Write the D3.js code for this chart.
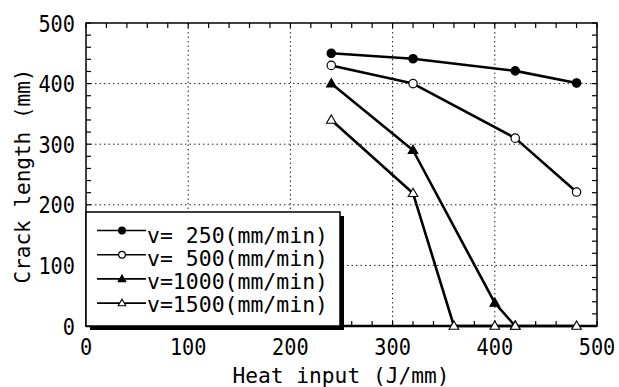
<!DOCTYPE html>
<html><head><meta charset="utf-8">
<script src="https://cdn.jsdelivr.net/npm/d3@7"></script>
<style>body{margin:0;background:#fff}svg{display:block}</style>
</head><body>
<svg id="c" width="619" height="387"></svg>
<script>
const xTicks = [0,100,200,300,400,500];
const yTicks = [0,100,200,300,400,500];
const seriesNames = ["v= 250(mm/min)","v= 500(mm/min)","v=1000(mm/min)","v=1500(mm/min)"];
const s250x = [240,320,420,480],  s250y = [450,441,421,401];
const s500x = [240,320,420,480],  s500y = [430,400,310,221];
const s1000x = [240,320,400,420], s1000y = [400,290,38,0];
const s1500x = [240,320,360,400,420,480], s1500y = [340,219,0,0,0,0];
const markers = ["circleFilled","circleOpen","triFilled","triOpen"];
const xTitle = "Heat input (J/mm)", yTitle = "Crack length (mm)";

const series = [[s250x,s250y],[s500x,s500y],[s1000x,s1000y],[s1500x,s1500y]].map((s,i)=>({
  name: seriesNames[i], marker: markers[i], pts: s[0].map((x,j)=>[x,s[1][j]])
}));

const L=86,R=597,T=23,B=326;
const svg=d3.select("#c");
const x=d3.scaleLinear().domain([0,500]).range([L,R]);
const y=d3.scaleLinear().domain([0,500]).range([B,T]);
const FONT="DejaVu Sans Mono";

// grid
const g=svg.append("g");
g.selectAll(".gx").data(xTicks.slice(1,-1)).join("line")
 .attr("x1",d=>x(d)).attr("x2",d=>x(d)).attr("y1",T).attr("y2",B)
 .attr("stroke","#222").attr("stroke-width",1).attr("stroke-dasharray","1.5,3");
g.selectAll(".gy").data(yTicks.slice(1,-1)).join("line")
 .attr("y1",d=>y(d)).attr("y2",d=>y(d)).attr("x1",L).attr("x2",R)
 .attr("stroke","#222").attr("stroke-width",1).attr("stroke-dasharray","1.5,3");

// minor ticks on all sides (inward)
const minor=d3.range(0,501,20);
const tk=svg.append("g").attr("stroke","#000").attr("stroke-width",1.2);
minor.forEach(v=>{
  tk.append("line").attr("x1",x(v)).attr("x2",x(v)).attr("y1",B).attr("y2",B-5);
  tk.append("line").attr("x1",x(v)).attr("x2",x(v)).attr("y1",T).attr("y2",T+5);
  tk.append("line").attr("y1",y(v)).attr("y2",y(v)).attr("x1",L).attr("x2",L+5);
  tk.append("line").attr("y1",y(v)).attr("y2",y(v)).attr("x1",R).attr("x2",R-5);
});

// frame
svg.append("rect").attr("x",L).attr("y",T).attr("width",R-L).attr("height",B-T)
 .attr("fill","none").attr("stroke","#000").attr("stroke-width",1.5);
svg.append("line").attr("x1",L).attr("x2",R).attr("y1",B).attr("y2",B)
 .attr("stroke","#000").attr("stroke-width",2.5);

// tick labels
svg.selectAll(".xl").data(xTicks).join("text")
 .attr("x",d=>x(d)).attr("y",B+29).attr("text-anchor","middle")
 .attr("font-family",FONT).attr("font-size",23)
 .attr("textLength",d=>String(d).length*12.2).attr("lengthAdjust","spacingAndGlyphs")
 .text(d=>d);
svg.selectAll(".yl").data(yTicks).join("text")
 .attr("x",75).attr("y",d=>y(d)+8.5).attr("text-anchor","end")
 .attr("font-family",FONT).attr("font-size",23)
 .attr("textLength",d=>String(d).length*12.2).attr("lengthAdjust","spacingAndGlyphs")
 .text(d=>d);

// titles
svg.append("text").attr("x",341).attr("y",383).attr("text-anchor","middle")
 .attr("font-family",FONT).attr("font-size",22)
 .attr("textLength",217).attr("lengthAdjust","spacingAndGlyphs").text(xTitle);
svg.append("text").attr("transform","translate(30,176) rotate(-90)").attr("text-anchor","middle")
 .attr("font-family",FONT).attr("font-size",22)
 .attr("textLength",215).attr("lengthAdjust","spacingAndGlyphs").text(yTitle);

function drawMarker(sel,type,cx,cy,sc){
  sc=sc||1;
  if(type.startsWith("circle")){
    sel.append("circle").attr("cx",cx).attr("cy",cy).attr("r",4.2*sc)
      .attr("fill",type==="circleFilled"?"#000":"#fff").attr("stroke","#000").attr("stroke-width",1.2);
  } else {
    const sym=d3.symbol().type(d3.symbolTriangle).size(40*sc*sc);
    sel.append("path").attr("d",sym()).attr("transform",`translate(${cx},${cy+0.5})`)
      .attr("fill",type==="triFilled"?"#000":"#fff").attr("stroke","#000").attr("stroke-width",1.1);
  }
}

// series lines
const line=d3.line().x(d=>x(d[0])).y(d=>y(d[1]));
series.forEach(s=>{
  svg.append("path").attr("d",line(s.pts)).attr("fill","none")
    .attr("stroke","#000").attr("stroke-width",2.6).attr("stroke-linejoin","round");
});
series.forEach(s=>{
  const mg=svg.append("g");
  s.pts.forEach(p=>drawMarker(mg,s.marker,x(p[0]),y(p[1])));
});

// legend
const lg=svg.append("g");
const lx=L, ly=212, lw=254, lh=B-212;
lg.append("rect").attr("x",lx+4).attr("y",ly+4).attr("width",lw).attr("height",lh).attr("fill","#000");
lg.append("rect").attr("x",lx).attr("y",ly).attr("width",lw).attr("height",lh)
  .attr("fill","#fff").attr("stroke","#000").attr("stroke-width",1.5);
series.forEach((s,i)=>{
  const cy=230.5+i*24.2;
  lg.append("line").attr("x1",97).attr("x2",146).attr("y1",cy).attr("y2",cy)
    .attr("stroke","#000").attr("stroke-width",1.6);
  drawMarker(lg,s.marker,122,cy,0.8);
  lg.append("text").attr("x",147).attr("y",243+i*23).attr("font-family",FONT).attr("font-size",21)
    .attr("textLength",181).attr("lengthAdjust","spacingAndGlyphs").text(s.name);
});
</script>
</body></html>
